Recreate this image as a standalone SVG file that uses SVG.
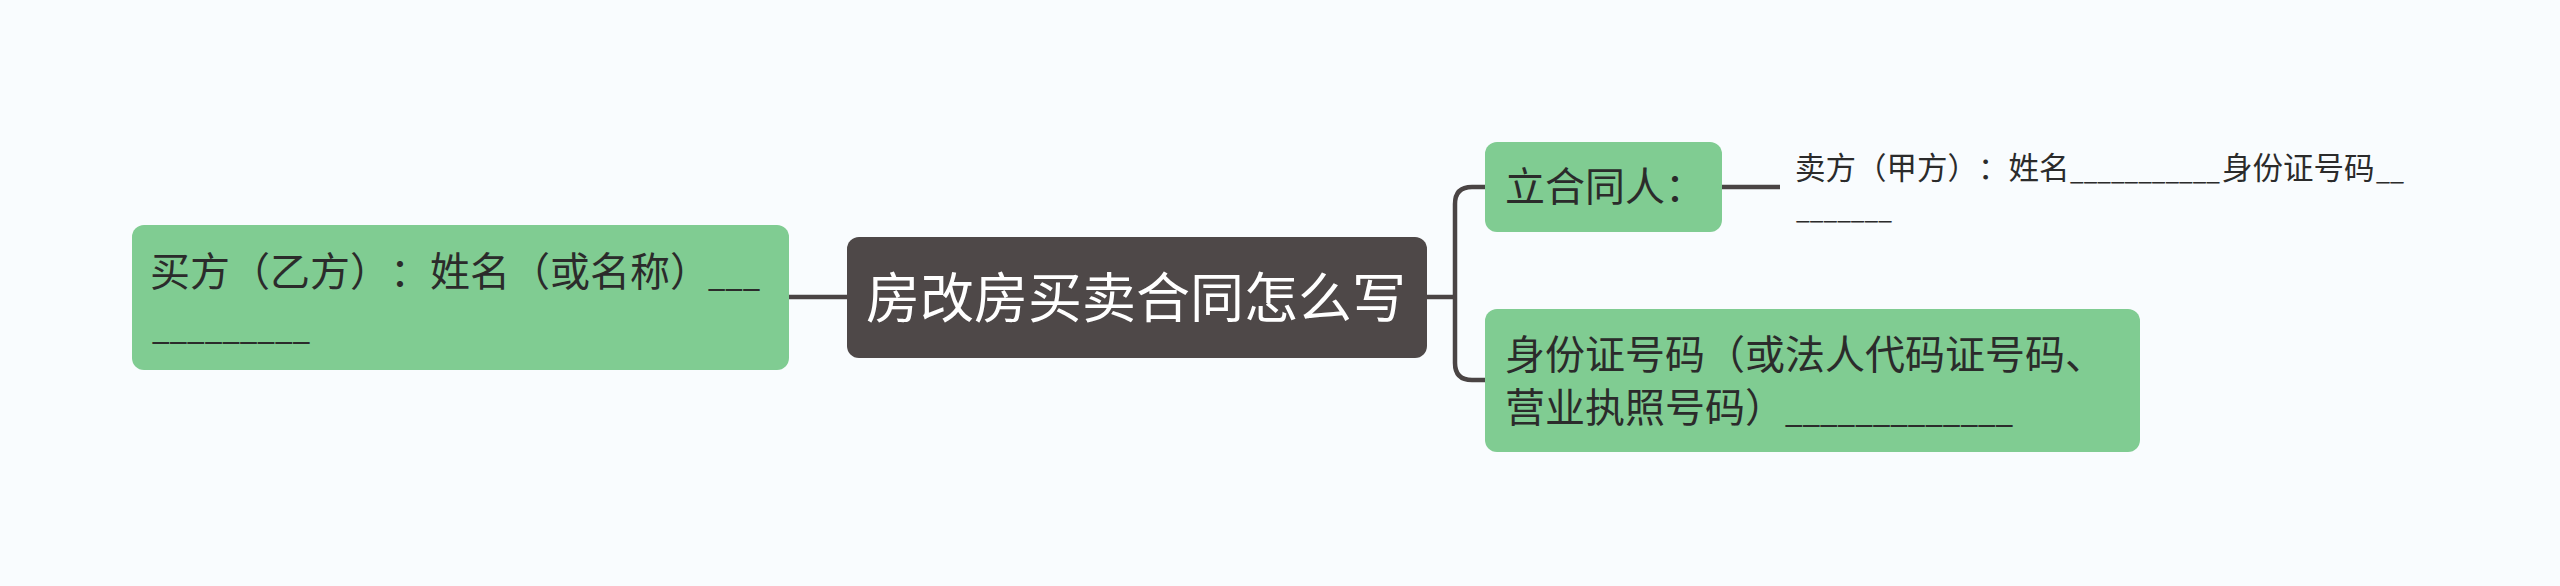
<svg xmlns="http://www.w3.org/2000/svg" width="2560" height="586" viewBox="0 0 2560 586">
<style>
.bg{fill:#f9fcfe}
.green{fill:#80cc92}
.dark{fill:#4e4848}
.conn{fill:none;stroke:#4a4444;stroke-width:4.5;stroke-linecap:butt}
.t{font-family:"Noto Sans CJK SC","Noto Sans",sans-serif;fill:#2b2b2b;text-spacing-trim:space-all;font-feature-settings:"chws" 0,"halt" 0}
.t40{font-size:40px}
.t30{font-size:30.5px}
.u40{font-size:31.6px}
.u30{font-size:24.8px}
.tc{font-size:54px;fill:#ffffff;text-anchor:middle}
</style>
<rect class="bg" x="0" y="0" width="2560" height="586"/>
<g id="connectors">
<path class="conn" d="M789 297 H847"/>
<path class="conn" d="M1427 297 H1455"/>
<path class="conn" d="M1485 187 H1472 Q1455 187 1455 204 V363 Q1455 380 1472 380 H1485"/>
<path class="conn" d="M1722 187 H1780"/>
</g>
<g id="node-buyer">
<rect class="green" x="132" y="225" width="657" height="145" rx="12"/>
<text class="t t40" x="150" y="286">买方（乙方）：姓名（或名称）</text>
<text class="t u40" x="708" y="287" textLength="52" lengthAdjust="spacingAndGlyphs">___</text>
<text class="t u40" x="152" y="340" textLength="158" lengthAdjust="spacingAndGlyphs">_________</text>
</g>
<g id="node-root">
<rect class="dark" x="847" y="237" width="580" height="121" rx="12"/>
<text class="t tc" x="1136" y="318">房改房买卖合同怎么写</text>
</g>
<g id="node-parties">
<rect class="green" x="1485" y="142" width="237" height="90" rx="12"/>
<text class="t t40" x="1505" y="201">立合同人：</text>
</g>
<g id="node-seller">
<text class="t t30" x="1795" y="179">卖方（甲方）：姓名</text>
<text class="t u30" x="2070" y="180" textLength="150" lengthAdjust="spacingAndGlyphs">___________</text>
<text class="t t30" x="2222" y="179">身份证号码</text>
<text class="t u30" x="2376" y="180" textLength="28" lengthAdjust="spacingAndGlyphs">__</text>
<text class="t u30" x="1796" y="219" textLength="96" lengthAdjust="spacingAndGlyphs">_______</text>
</g>
<g id="node-id">
<rect class="green" x="1485" y="309" width="655" height="143" rx="12"/>
<text class="t t40" x="1505" y="369">身份证号码（或法人代码证号码、</text>
<text class="t t40" x="1505" y="422">营业执照号码）</text>
<text class="t u40" x="1785" y="423" textLength="228" lengthAdjust="spacingAndGlyphs">_____________</text>
</g>
</svg>
